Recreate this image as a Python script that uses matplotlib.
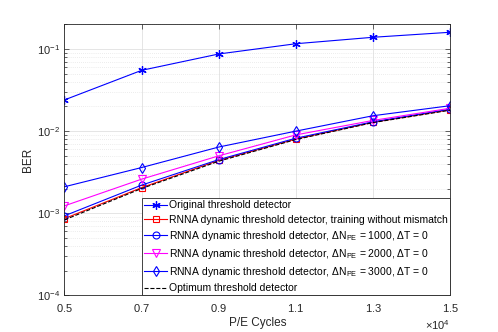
import matplotlib

matplotlib.use("Agg")
import matplotlib.pyplot as plt
from matplotlib.ticker import ScalarFormatter, LogLocator, NullFormatter

plt.rcParams["font.family"] = ["Liberation Sans", "DejaVu Sans"]
plt.rcParams["mathtext.fontset"] = "custom"
plt.rcParams["mathtext.rm"] = "Liberation Sans"
plt.rcParams["mathtext.it"] = "Liberation Sans:italic"

# P/E cycles
pe = [5000, 7000, 9000, 11000, 13000, 15000]

# BER per detector
ber_original = [0.024, 0.055, 0.087, 0.116, 0.139, 0.16]
ber_rnna_nomis = [0.00086, 0.00205, 0.0044, 0.008, 0.0128, 0.0182]
ber_rnna_1000 = [0.00093, 0.0022, 0.0045, 0.0082, 0.013, 0.0185]
ber_rnna_2000 = [0.00123, 0.0026, 0.0050, 0.009, 0.0135, 0.019]
ber_rnna_3000 = [0.0021, 0.0036, 0.0064, 0.0100, 0.0154, 0.0204]
ber_optimum = [0.00083, 0.0020, 0.0043, 0.0079, 0.0127, 0.018]

labels = [
    "Original threshold detector",
    "RNNA dynamic threshold detector, training without mismatch",
    r"RNNA dynamic threshold detector, ΔN$_{\rm PE}$ = 1000, ΔT = 0",
    r"RNNA dynamic threshold detector, ΔN$_{\rm PE}$ = 2000, ΔT = 0",
    r"RNNA dynamic threshold detector, ΔN$_{\rm PE}$ = 3000, ΔT = 0",
    "Optimum threshold detector",
]

fig = plt.figure(figsize=(4.98, 3.32), dpi=100)
ax = fig.add_axes([0.1295, 0.1105, 0.7745, 0.8163])

lw = 0.8
asterisk = (6, 2, 0)
ax.plot(pe, ber_original, "-", marker=asterisk, color="blue", lw=lw, ms=6, mew=0.9, label=labels[0])
ax.plot(pe, ber_rnna_nomis, "-s", color="red", lw=lw, ms=4.5, mfc="none", mew=0.8, label=labels[1])
ax.plot(pe, ber_rnna_1000, "-o", color="blue", lw=lw, ms=5, mfc="none", mew=0.8, label=labels[2])
ax.plot(pe, ber_rnna_2000, "-v", color="magenta", lw=lw, ms=5.5, mfc="none", mew=0.8, label=labels[3])
ax.plot(pe, ber_rnna_3000, "-d", color="blue", lw=lw, ms=5.5, mfc="none", mew=0.8, label=labels[4])
ax.plot(pe, ber_optimum, "--", color="black", lw=lw, label=labels[5])

ax.set_yscale("log")
ax.set_ylim(1e-4, 0.2)
ax.set_xlim(5000, 15000)
ax.set_xticks(pe)
fmt = ScalarFormatter(useMathText=True)
fmt.set_powerlimits((0, 0))
ax.xaxis.set_major_formatter(fmt)
ax.yaxis.set_major_locator(LogLocator(base=10, numticks=10))
ax.yaxis.set_minor_locator(LogLocator(base=10, subs=range(2, 10), numticks=20))
ax.yaxis.set_minor_formatter(NullFormatter())

ax.grid(True, which="major", color="0.88", lw=0.6, ls="-")
ax.grid(True, which="minor", axis="y", color="0.86", lw=0.5, ls=(0, (1, 2)))
ax.set_axisbelow(True)

for s in ax.spines.values():
    s.set_color("0.15")
    s.set_linewidth(0.6)
ax.tick_params(which="both", direction="in", top=True, right=True,
               labelsize=8, colors="0.15", width=0.5)
ax.tick_params(which="major", length=3.5)
ax.tick_params(which="minor", length=2)
ax.tick_params(axis="x", pad=5)
ax.xaxis.get_offset_text().set_fontsize(8)

ax.set_xlabel("P/E Cycles", fontsize=8.5, color="0.15", labelpad=2)
ax.set_ylabel("BER", fontsize=8.5, color="0.15", labelpad=2)

leg = ax.legend(loc="lower right", borderaxespad=0, fontsize=7.5, fancybox=False,
                framealpha=1, edgecolor="0.15", handlelength=2.2, handletextpad=0.2,
                labelspacing=0.4, borderpad=0.2)
leg.get_frame().set_linewidth(0.6)

fig.savefig("out.png", dpi=100)
